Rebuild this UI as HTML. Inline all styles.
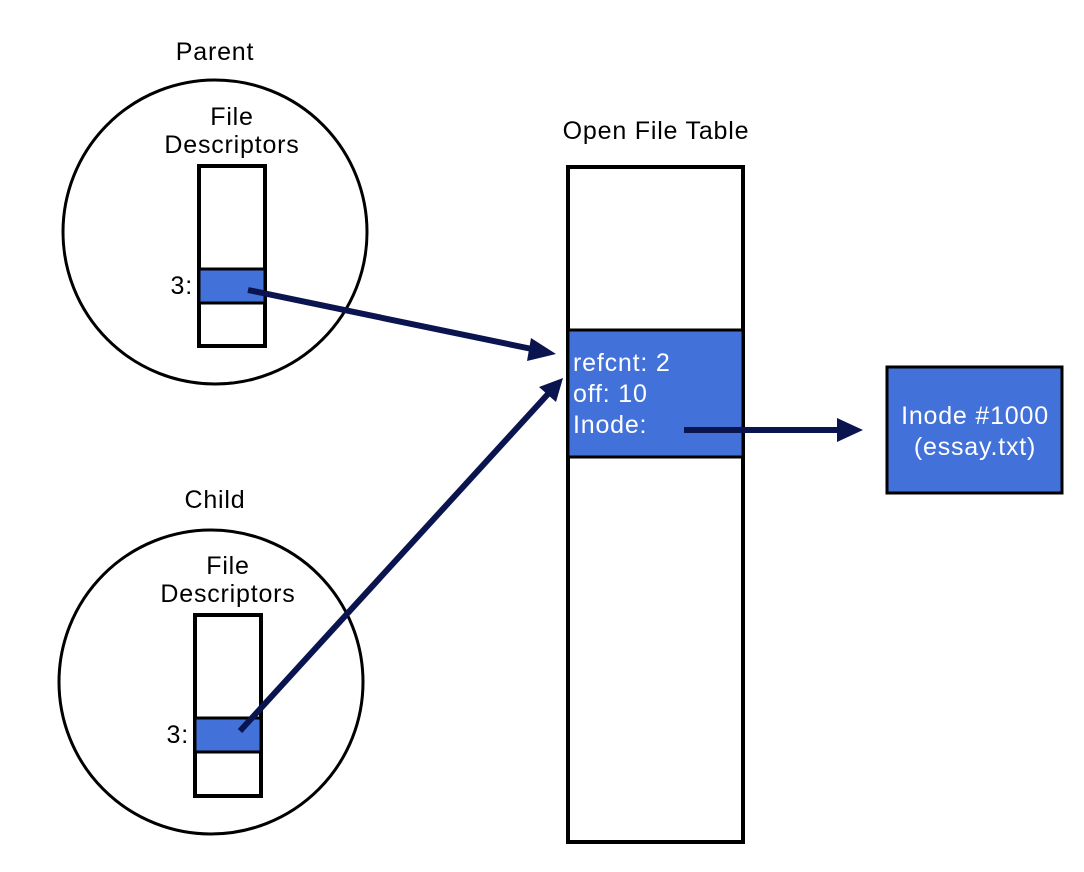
<!DOCTYPE html>
<html><head><style>
html,body{margin:0;padding:0;background:#fff}
svg{display:block}
text{font-family:"Liberation Sans",sans-serif;font-size:25px;letter-spacing:0.8px}
</style></head><body>
<svg width="1084" height="872" viewBox="0 0 1084 872" xmlns="http://www.w3.org/2000/svg">
<circle cx="215" cy="232" r="152" fill="none" stroke="#000" stroke-width="3"/>
<circle cx="211" cy="682" r="152" fill="none" stroke="#000" stroke-width="3"/>
<text x="215" y="60" text-anchor="middle">Parent</text>
<text x="232" y="125" text-anchor="middle">File</text>
<text x="232" y="153" text-anchor="middle">Descriptors</text>
<rect x="199" y="166" width="66" height="180" fill="#fff" stroke="#000" stroke-width="4"/>
<rect x="199" y="269" width="66" height="34" fill="#4272d9" stroke="#000" stroke-width="3"/>
<text x="193" y="294" text-anchor="end">3:</text>

<text x="215" y="508" text-anchor="middle">Child</text>
<text x="228" y="574" text-anchor="middle">File</text>
<text x="228" y="602" text-anchor="middle">Descriptors</text>
<rect x="195" y="615" width="66" height="181" fill="#fff" stroke="#000" stroke-width="4"/>
<rect x="195" y="718" width="66" height="34" fill="#4272d9" stroke="#000" stroke-width="3"/>
<text x="189" y="743" text-anchor="end">3:</text>

<text x="656" y="139" text-anchor="middle">Open File Table</text>
<rect x="568" y="167" width="175" height="675" fill="#fff" stroke="#000" stroke-width="4"/>
<rect x="568" y="330" width="175" height="127" fill="#4272d9" stroke="#000" stroke-width="3"/>
<g fill="#fff">
<text x="573" y="371">refcnt: 2</text>
<text x="573" y="402">off: 10</text>
<text x="573" y="433">Inode:</text>
</g>
<rect x="887" y="367" width="175" height="126" fill="#4272d9" stroke="#000" stroke-width="3"/>
<text x="975" y="424" text-anchor="middle" fill="#fff">Inode #1000</text>
<text x="975" y="455" text-anchor="middle" fill="#fff">(essay.txt)</text>

<g stroke="#0a154f" stroke-width="6" fill="#0a154f">
<line x1="248" y1="290" x2="532" y2="349"/>
<polygon points="556,354 527,361 531,338" stroke="none"/>
<line x1="240" y1="731" x2="548" y2="394"/>
<polygon points="563,378 556,402 539,387" stroke="none"/>
<line x1="684" y1="430" x2="840" y2="430"/>
<polygon points="863,430 837,418 837,442" stroke="none"/>
</g>
</svg>
</body></html>
